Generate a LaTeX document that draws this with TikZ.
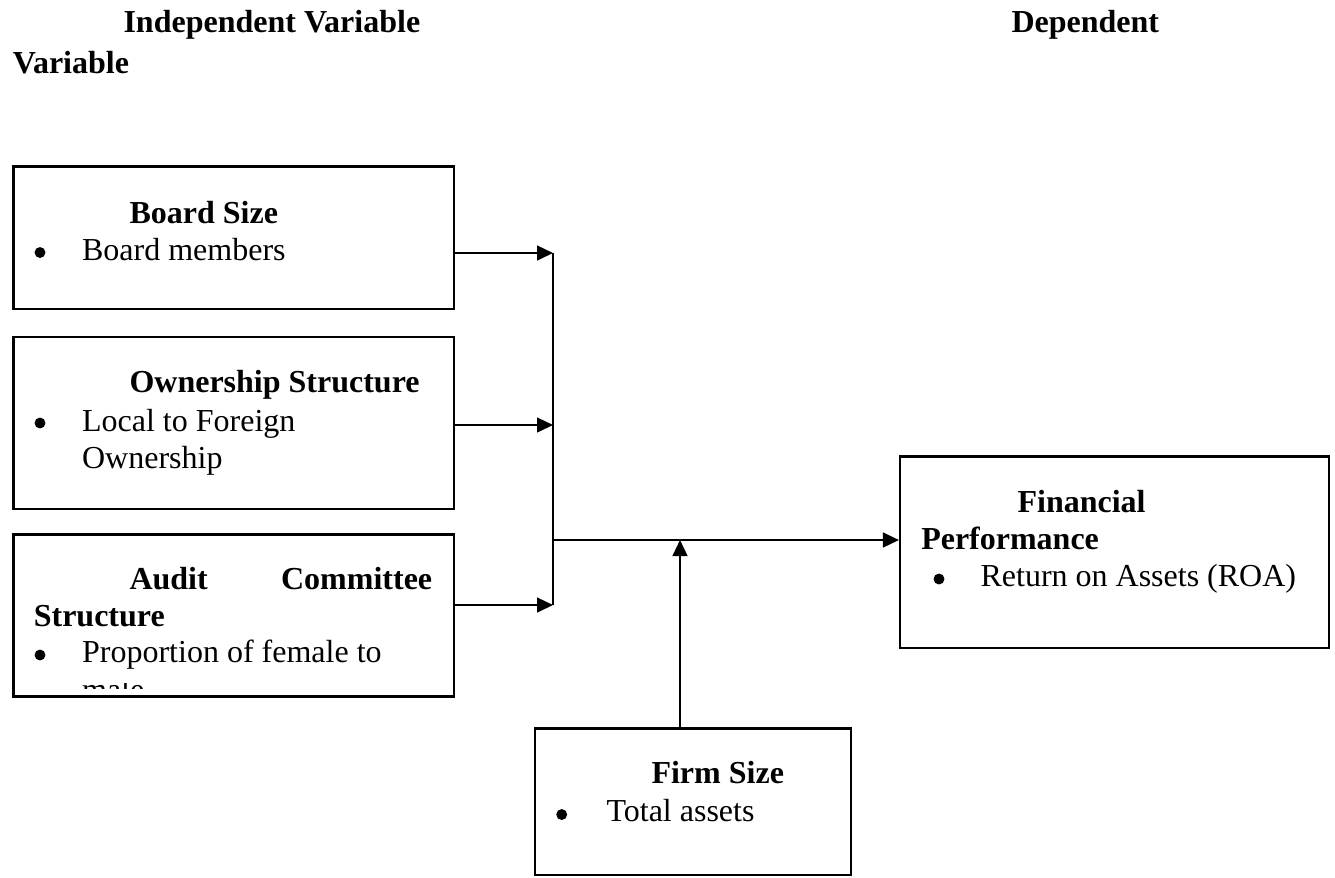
\documentclass[tikz,border=0pt]{standalone}
\usepackage{fontspec}
\setmainfont{Liberation Serif}
\usetikzlibrary{arrows.meta,fit}
\begin{document}
\begin{tikzpicture}[x=0.375pt,y=-0.375pt,
  box/.style={draw,line width=0.8pt,inner sep=0pt},
  txt/.style={inner sep=0pt,anchor=base west,font=\fontsize{12}{13.8}\selectfont},
  btxt/.style={txt,font=\fontsize{12}{13.8}\selectfont\bfseries},
  dot/.style={circle,fill,inner sep=0pt,minimum size=4.1pt},
  conn/.style={line width=0.6pt},
  arr/.style={conn,-{Triangle[length=6pt,width=5.6pt]}}]
\useasboundingbox (0,0) rectangle (1335,877);
% corner coordinates
\coordinate (b1a) at (13.5,166.5); \coordinate (b1b) at (454,309);
\coordinate (b2a) at (13.5,337);   \coordinate (b2b) at (454,509);
\coordinate (b3a) at (13.5,534.5); \coordinate (b3b) at (454,696.5);
\coordinate (fa) at (900,456.5);   \coordinate (fb) at (1329,648);
\coordinate (sa) at (535,728.5);   \coordinate (sb) at (851,875);
% headers
\node[btxt] (hind) at (123,32.3) {Independent Variable};
\node[btxt] (hdep) at (1011,32.3) {Dependent};
\node[btxt] (hvar) at (12.3,73.3) {Variable};
% boxes
\node[box,fit=(b1a)(b1b)] (b1) {};
\node[box,fit=(b2a)(b2b)] (b2) {};
\node[box,fit=(b3a)(b3b)] (b3) {};
\node[box,fit=(fa)(fb)] (fin) {};
\node[box,fit=(sa)(sb)] (firm) {};
% box 1
\node[btxt] (t1) at (129,223) {Board Size};
\node[dot] (d1) at (40,252.5) {};
\node[txt] (t1a) at (81.6,260.7) {Board members};
% box 2
\node[btxt] (t2) at (129,392) {Ownership Structure};
\node[dot] (d2) at (40,423) {};
\node[txt] (t2a) at (81.6,431) {Local to Foreign};
\node[txt] (t2b) at (81.6,468) {Ownership};
% box 3
\node[btxt] (t3a) at (129,589.5) {Audit};
\node[btxt,anchor=base east] (t3b) at (432.7,589.5) {Committee};
\node[btxt] (t3c) at (33.3,626.5) {Structure};
\node[dot] (d3) at (40,655) {};
\node[txt] (t3d) at (81.6,662.5) {Proportion of female to};
\begin{scope}
  \clip (60,683) rectangle (300,688.5);
  \node[txt] (t3e) at (81.6,700) {male};
\end{scope}
% financial performance
\node[btxt] (f1) at (1017,512.7) {Financial};
\node[btxt] (f2) at (920.7,549) {Performance};
\node[dot] (d4) at (939,579) {};
\node[txt] (f3) at (980,586.7) {Return on Assets (ROA)};
% firm size
\node[btxt] (s1) at (651,783) {Firm Size};
\node[dot] (d5) at (561.7,814.5) {};
\node[txt] (s2) at (606,821.7) {Total assets};
% connectors
\coordinate (j1) at (553,253);
\coordinate (j2) at (553,425);
\coordinate (j3) at (553,605);
\coordinate (jm) at (553,540);
\coordinate (jf) at (680,540);
\draw[arr] (b1.east |- j1) -- (j1);
\draw[arr] (b2.east |- j2) -- (j2);
\draw[arr] (b3.east |- j3) -- (j3);
\draw[conn] (j1) -- (j3);
\draw[arr] (jm) -- (fin.west |- jm);
\draw[arr] (jf |- firm.north) -- (jf);
\end{tikzpicture}
\end{document}
